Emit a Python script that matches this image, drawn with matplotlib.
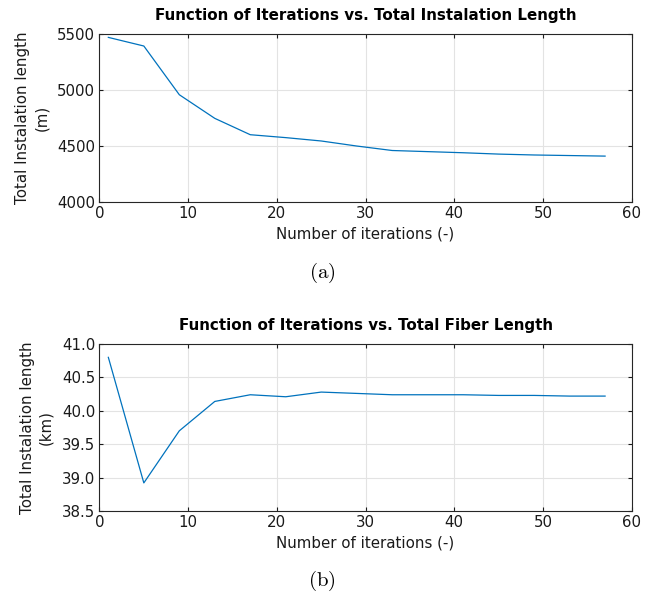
import matplotlib
matplotlib.use("Agg")
import matplotlib.pyplot as plt

iterations = [1, 5, 9, 13, 17, 21, 25, 29, 33, 37, 41, 45, 49, 53, 57]
install_len_m = [5470, 5393, 4958, 4747, 4601, 4575, 4545, 4500, 4460, 4450, 4440, 4428, 4420, 4415, 4410]
fiber_len_km = [40.80, 38.92, 39.70, 40.14, 40.24, 40.21, 40.28, 40.26, 40.24, 40.24, 40.24, 40.23, 40.23, 40.22, 40.22]

x_ticks = [0, 10, 20, 30, 40, 50, 60]
yticks_a = [4000, 4500, 5000, 5500]
yticks_b = [38.5, 39.0, 39.5, 40.0, 40.5, 41.0]

plt.rcParams['font.family'] = ['DejaVu Sans']
plt.rcParams['mathtext.fontset'] = 'cm'

fig = plt.figure(figsize=(6.54, 5.97), dpi=100)
ax1 = fig.add_axes([0.1521, 0.6616, 0.8138, 0.2814])
ax2 = fig.add_axes([0.1521, 0.1441, 0.8138, 0.2797])

line_color = '#0072BD'

def style(ax, yticks, ylim, ylabel, title, fmt):
    ax.set_xlim(0, 60)
    ax.set_ylim(*ylim)
    ax.set_xticks(x_ticks)
    ax.set_yticks(yticks)
    ax.set_yticklabels([fmt.format(v) for v in yticks])
    ax.grid(True, color='#e3e3e3', linewidth=0.8)
    ax.set_axisbelow(True)
    ax.tick_params(direction='in', top=True, right=True, labelsize=10.8,
                   length=3, width=0.8, colors='#1a1a1a', pad=3)
    for s in ax.spines.values():
        s.set_color('#262626')
        s.set_linewidth(0.8)
    ax.set_xlabel('Number of iterations (-)', fontsize=10.8, color='#1a1a1a', labelpad=4)
    ax.set_ylabel(ylabel, fontsize=10.8, color='#1a1a1a', labelpad=6, linespacing=1.35)
    ax.set_title(title, fontsize=10.9, fontweight='bold', pad=10)

ax1.plot(iterations, install_len_m, color=line_color, linewidth=0.9)
style(ax1, yticks_a, (4000, 5500), 'Total Instalation length\n(m)',
      'Function of Iterations vs. Total Instalation Length', '{:.0f}')

ax2.plot(iterations, fiber_len_km, color=line_color, linewidth=0.9)
style(ax2, yticks_b, (38.5, 41.0), 'Total Instalation length\n(km)',
      'Function of Iterations vs. Total Fiber Length', '{:.1f}')

fig.text(322/654, 1 - 273/597, r'$\mathrm{(a)}$', ha='center', va='center', fontsize=15)
fig.text(322/654, 1 - 581/597, r'$\mathrm{(b)}$', ha='center', va='center', fontsize=15)

fig.savefig('out.png', dpi=100, facecolor='white')
